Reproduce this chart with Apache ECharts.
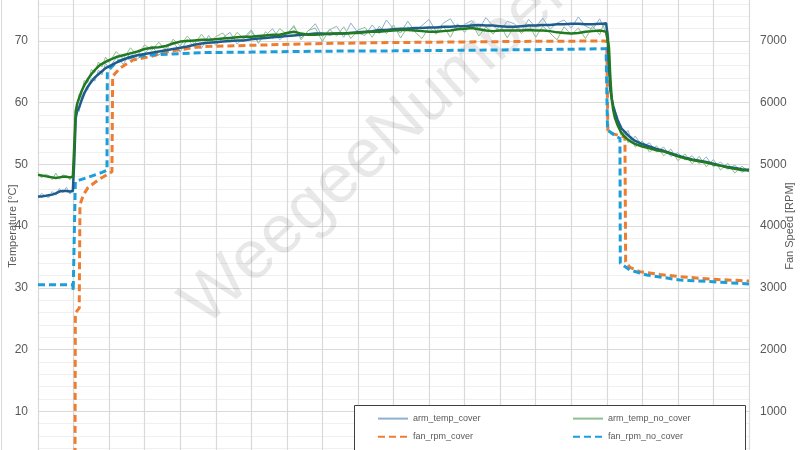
<!DOCTYPE html>
<html>
<head>
<meta charset="utf-8">
<script src="https://cdn.jsdelivr.net/npm/echarts@6/dist/echarts.min.js"></script>
<style>
html,body{margin:0;padding:0;background:#fff;}
#chart{width:800px;height:450px;}
</style>
</head>
<body>
<div id="chart"></div>
<script>
// time in seconds for temperature samples
const TIME_S = [
0,10,20,30,40,50,60,70,80,90,
98,102,106,110,116,122,130,140,150,160,
170,180,190,200,220,240,260,280,300,320,
340,360,380,400,420,440,460,480,500,520,
540,560,580,600,620,640,660,680,700,720,
740,760,780,800,820,840,860,880,900,920,
940,960,980,1000,1020,1040,1060,1080,1100,1120,
1140,1160,1180,1200,1220,1240,1260,1280,1300,1320,
1340,1360,1380,1400,1420,1440,1460,1480,1500,1520,
1540,1560,1580,1590,1598,1602,1606,1610,1614,1618,
1623,1630,1640,1650,1660,1670,1680,1700,1720,1740,
1760,1780,1800,1820,1840,1860,1880,1900,1920,1940,
1960,1980,2000];

// raw temperature, with cover
const ARM_TEMP_COVER = [
44.5,45.3,44.9,44.6,45.6,45.0,46.1,45.4,46.3,45.2,
45.9,51.0,57.8,59.5,58.6,60.9,61.8,62.1,64.0,63.5,
65.3,64.5,66.4,65.6,67.3,66.2,68.2,67.1,68.0,69.2,
67.7,68.9,69.9,68.2,70.3,69.0,68.8,70.9,69.3,70.5,
71.4,69.5,70.6,71.8,69.8,70.9,72.0,70.2,71.2,72.3,
70.5,71.6,72.8,70.7,71.8,72.4,70.6,72.9,71.3,70.9,
72.6,71.2,73.4,72.0,71.3,73.2,71.6,72.5,73.5,71.5,
72.9,73.6,71.8,72.7,73.3,71.9,73.8,72.4,71.7,73.2,
72.8,71.6,73.5,72.2,73.7,71.9,72.9,73.4,72.1,73.9,
72.4,71.9,73.6,72.3,73.0,70.2,65.5,61.8,60.9,59.2,
58.9,57.0,56.4,55.0,55.5,53.8,54.6,52.9,53.5,52.0,
52.8,51.3,51.9,50.7,51.4,50.1,51.2,49.6,50.4,49.2,
49.9,48.7,49.4];

// raw temperature, no cover
const ARM_TEMP_NO_COVER = [
48.7,47.8,48.4,48.2,47.5,48.6,47.6,48.3,48.1,47.5,
48.4,53.5,58.9,59.6,61.4,61.3,63.6,63.2,65.4,64.9,
66.6,65.8,67.4,66.5,68.3,67.1,68.9,67.6,69.4,68.5,
69.8,68.4,70.3,69.2,70.8,69.5,71.1,69.6,70.7,71.3,
69.8,71.4,70.3,71.6,69.6,71.5,70.4,72.0,71.1,72.5,
70.2,71.7,72.1,69.9,71.9,70.8,72.3,70.4,71.8,72.2,
70.6,72.4,71.2,72.6,70.5,72.3,71.5,70.4,72.2,71.1,
72.4,70.6,72.8,71.4,72.9,70.8,72.3,71.1,72.6,70.5,
72.5,71.2,72.7,70.6,72.4,71.3,70.2,72.3,71.0,72.1,
70.4,72.4,71.0,72.6,70.9,71.8,70.5,65.2,60.8,59.3,
57.6,56.8,54.7,55.4,53.5,54.5,52.8,53.8,52.0,53.0,
51.4,52.5,50.6,51.7,50.1,51.3,49.6,50.8,49.1,50.2,
48.6,49.7,48.8];

// moving average, with cover
const ARM_TEMP_COVER_AVG = [
44.8,44.8,44.9,45.0,45.1,45.3,45.6,45.7,45.7,45.6,
45.7,50.5,57.5,58.6,59.3,60.3,61.5,62.6,63.4,64.1,
64.6,65.1,65.6,65.9,66.5,67.0,67.4,67.7,67.9,68.1,
68.3,68.5,68.7,68.9,69.1,69.4,69.6,69.7,69.8,69.9,
70.0,70.1,70.1,70.3,70.4,70.5,70.6,70.7,70.8,70.9,
71.0,71.1,71.2,71.2,71.1,71.2,71.2,71.3,71.4,71.5,
71.6,71.8,71.8,71.9,72.0,72.0,72.1,72.1,72.2,72.2,
72.3,72.3,72.4,72.4,72.5,72.6,72.5,72.5,72.4,72.3,
72.3,72.4,72.5,72.5,72.6,72.6,72.7,72.7,72.8,72.8,
72.7,72.7,72.8,72.8,72.9,71.0,66.0,62.0,60.7,59.5,
58.5,57.3,55.9,55.3,54.7,54.2,53.8,53.3,52.9,52.5,
52.2,51.8,51.4,51.1,50.8,50.6,50.4,50.1,49.8,49.6,
49.4,49.2,49.1];

// moving average, no cover
const ARM_TEMP_NO_COVER_AVG = [
48.3,48.2,48.1,48.0,47.9,47.8,47.9,48.0,48.0,47.9,
48.0,53.0,58.6,59.8,60.8,61.8,62.8,63.8,64.6,65.3,
65.9,66.3,66.6,66.9,67.4,67.7,68.0,68.3,68.7,68.9,
69.0,69.2,69.6,69.9,70.0,70.1,70.2,70.2,70.3,70.4,
70.5,70.6,70.7,70.7,70.8,70.9,71.0,71.0,71.3,71.5,
71.2,71.0,71.0,71.1,71.2,71.2,71.2,71.3,71.3,71.4,
71.5,71.5,71.6,71.7,71.8,71.8,71.7,71.6,71.5,71.5,
71.6,71.7,71.9,72.0,72.1,71.9,71.7,71.6,71.7,71.7,
71.7,71.7,71.8,71.7,71.7,71.6,71.4,71.3,71.2,71.3,
71.5,71.6,71.7,71.6,71.5,71.4,69.0,64.0,60.5,58.8,
57.5,56.4,55.2,54.5,54.0,53.6,53.3,52.9,52.6,52.3,
52.1,51.7,51.3,51.0,50.7,50.5,50.3,50.0,49.8,49.5,
49.3,49.1,49.0];

// fan speed, with cover
const FAN_COVER_T = [0,104,105,116,118,127,140,156,175,193,
208,210,230,267,315,362,456,600,800,1000,
1200,1400,1590,1600,1603,1620,1640,1651,1653,1665,
1693,1750,1806,1899,2000];
const FAN_COVER_RPM = [0,0,2590,2670,4340,4500,4620,4690,4770,4830,
4880,6430,6557,6692,6746,6827,6908,6930,6960,6975,
6985,6995,7000,6995,5540,5490,5460,5440,3424,3330,
3261,3215,3180,3138,3110];

// fan speed, no cover
const FAN_NO_COVER_T = [0,98,99,104,105,116,150,180,194,195,
221,267,315,456,600,800,1000,1200,1400,1598,
1602,1620,1637,1638,1665,1712,1806,1899,2000];
const FAN_NO_COVER_RPM = [3050,3050,2950,2935,4720,4745,4810,4870,4905,6502,
6665,6745,6773,6811,6820,6835,6840,6850,6860,6875,
5557,5480,5420,3397,3289,3207,3126,3099,3061];

const SERIES_NAMES = ['arm_temp_cover','arm_temp_no_cover','fan_rpm_cover','fan_rpm_no_cover'];
const AXIS_NAMES = ['Temperature [°C]','Fan Speed [RPM]'];
const WATERMARK = 'WeegeeNumbers';

const zip = (xs, ys) => xs.map((x, i) => [x, ys[i]]);

const FONT = 'Liberation Sans';
const legendCommon = {
  orient: 'vertical', itemGap: 7, itemWidth: 30, itemHeight: 14, top: 408, z: 10,
  itemStyle: { opacity: 0, borderWidth: 0 },
  textStyle: { color: '#595959', fontSize: 9, fontFamily: FONT }
};
const chart = echarts.init(document.getElementById('chart'));
chart.setOption({
  animation: false,
  backgroundColor: '#ffffff',
  grid: { left: 38, right: 51, top: -20.7, bottom: -22.9, containLabel: false, outerBoundsMode: 'none' },
  xAxis: {
    type: 'value', min: 0, max: 2000, interval: 100,
    axisLine: { show: false }, axisTick: { show: false },
    axisLabel: { show: false },
    splitLine: { show: true, lineStyle: { color: '#d9d9d9', width: 1.2 } }
  },
  yAxis: [
    {
      type: 'value', min: 0, max: 80, interval: 10,
      name: AXIS_NAMES[0], nameLocation: 'middle', nameRotate: 90, nameGap: 20, nameMoveOverlap: false,
      nameTextStyle: { color: '#595959', fontSize: 11, fontFamily: FONT },
      axisLine: { show: false }, axisTick: { show: false },
      axisLabel: { color: '#595959', fontSize: 12, margin: 10, fontFamily: FONT, formatter: v => String(v) },
      splitLine: { show: true, lineStyle: { color: '#d9d9d9', width: 1.2 } },
      minorTick: { show: false, splitNumber: 5 },
      minorSplitLine: { show: true, lineStyle: { color: '#f0f0f0', width: 1 } }
    },
    {
      type: 'value', min: 0, max: 8000, interval: 1000, position: 'right',
      name: AXIS_NAMES[1], nameLocation: 'middle', nameRotate: 90, nameGap: 35, nameMoveOverlap: false,
      nameTextStyle: { color: '#595959', fontSize: 11, fontFamily: FONT },
      axisLine: { show: false }, axisTick: { show: false },
      axisLabel: { color: '#595959', fontSize: 12, margin: 11, fontFamily: FONT, formatter: v => String(v) },
      splitLine: { show: false }
    }
  ],
  legend: [
    Object.assign({ left: 372, data: [SERIES_NAMES[0], SERIES_NAMES[2]] }, legendCommon),
    Object.assign({ left: 567, data: [SERIES_NAMES[1], SERIES_NAMES[3]] }, legendCommon)
  ],
  graphic: [
    { type: 'line', shape: { x1: 1.5, y1: 0, x2: 1.5, y2: 450 }, style: { stroke: '#d9d9d9', lineWidth: 1 }, z: 1 },
    { type: 'rect', shape: { x: 354.5, y: 405.5, width: 391, height: 80 }, style: { fill: '#ffffff', stroke: '#404040', lineWidth: 1 }, z: 5 },
    { type: 'text', x: 215, y: 339, rotation: 42 * Math.PI / 180, z: 1,
      style: { text: WATERMARK, fill: 'rgba(0,0,0,0.09)', font: '68px "Liberation Sans"', textAlign: 'left', textVerticalAlign: 'bottom' } }
  ],
  series: [
    { name: SERIES_NAMES[0], type: 'line', yAxisIndex: 0, symbol: 'none', z: 2,
      data: zip(TIME_S, ARM_TEMP_COVER), lineStyle: { color: '#8fb1cf', width: 1 }, itemStyle: { color: '#8fb1cf' } },
    { name: SERIES_NAMES[1], type: 'line', yAxisIndex: 0, symbol: 'none', z: 2,
      data: zip(TIME_S, ARM_TEMP_NO_COVER), lineStyle: { color: '#8fbf8f', width: 1 }, itemStyle: { color: '#8fbf8f' } },
    { name: SERIES_NAMES[2], type: 'line', yAxisIndex: 1, symbol: 'none', z: 3,
      data: zip(FAN_COVER_T, FAN_COVER_RPM), lineStyle: { color: '#ed7d31', width: 3, type: [7, 4] }, itemStyle: { color: '#ed7d31' } },
    { name: SERIES_NAMES[3], type: 'line', yAxisIndex: 1, symbol: 'none', z: 3,
      data: zip(FAN_NO_COVER_T, FAN_NO_COVER_RPM), lineStyle: { color: '#1d9ed9', width: 3, type: [7, 4] }, itemStyle: { color: '#1d9ed9' } },
    { name: 'arm_temp_cover_avg', type: 'line', yAxisIndex: 0, symbol: 'none', z: 4,
      data: zip(TIME_S, ARM_TEMP_COVER_AVG), lineStyle: { color: '#1f5c8c', width: 2.5 }, itemStyle: { color: '#1f5c8c' } },
    { name: 'arm_temp_no_cover_avg', type: 'line', yAxisIndex: 0, symbol: 'none', z: 4,
      data: zip(TIME_S, ARM_TEMP_NO_COVER_AVG), lineStyle: { color: '#217a21', width: 2.5 }, itemStyle: { color: '#217a21' } }
  ]
});
</script>
</body>
</html>
